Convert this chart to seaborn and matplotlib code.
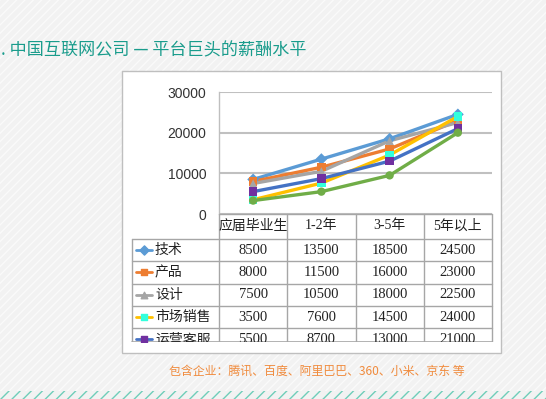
import matplotlib.pyplot as plt
import seaborn as sns
import pandas as pd
from matplotlib.patches import Rectangle

# dados do grafico
categorias = ['应届毕业生', '1-2年', '3-5年', '5年以上']
series = ['技术', '产品', '设计', '市场销售', '运营客服', '其他']
tecnico = [8500, 13500, 18500, 24500]
produto = [8000, 11500, 16000, 23000]
design = [7500, 10500, 18000, 22500]
vendas = [3500, 7600, 14500, 24000]
operacao = [5500, 8700, 13000, 21000]
outros = [3300, 5500, 9500, 20000]
valores = [tecnico, produto, design, vendas, operacao, outros]

cores_linha = ['#5B9BD5', '#ED7D31', '#A5A5A5', '#FFC000', '#4472C4', '#70AD47']
cores_marca = ['#5B9BD5', '#ED7D31', '#A5A5A5', '#33FFDD', '#7030A0', '#70AD47']
marcas = ['D', 's', '^', 's', 's', 'o']

W, H = 546, 399
sns.set_theme(style='white')
plt.rcParams['font.family'] = ['Noto Sans CJK SC', 'DejaVu Sans']
plt.rcParams['hatch.linewidth'] = 1.0

fig = plt.figure(figsize=(W / 100, H / 100), dpi=100)

# fundo em pixels
bg = fig.add_axes([0, 0, 1, 1], zorder=-5)
bg.set_xlim(0, W)
bg.set_ylim(H, 0)
bg.axis('off')
bg.add_patch(Rectangle((0, 0), W, H, facecolor='#f2f2f2', edgecolor='#fafafa',
                       hatch='////', lw=0))
bg.add_patch(Rectangle((0, 391), W, 9, facecolor='#f2f2f2', edgecolor='#6fcdb9',
                       hatch='///', lw=0))
bg.add_patch(Rectangle((122, 71), 379, 282, facecolor='white', edgecolor='#bfbfbf', lw=1))

fig.text(1 / W, 1 - 50 / H, '. 中国互联网公司 — 平台巨头的薪酬水平', color='#1a9c8c',
         fontsize=12.3, va='center', ha='left')
fig.text(317 / W, 1 - 371 / H, '包含企业：腾讯、百度、阿里巴巴、360、小米、京东 等',
         color='#F08B3D', fontsize=8.6, va='center', ha='center')

# grafico principal
x0, x1, ytop, y0 = 219, 492, 92, 214
ax = fig.add_axes([x0 / W, 1 - y0 / H, (x1 - x0) / W, (y0 - ytop) / H])
linhas = []
for nome, vals in zip(series, valores):
    for c, v in zip(categorias, vals):
        linhas.append({'cat': c, 'val': v, 'serie': nome})
df = pd.DataFrame(linhas)

sns.lineplot(data=df, x='cat', y='val', hue='serie', palette=cores_linha, lw=2.4,
             sort=False, legend=False, ax=ax)
sns.scatterplot(data=df, x='cat', y='val', hue='serie', palette=cores_marca,
                style='serie', markers=dict(zip(series, marcas)), s=36,
                edgecolor='none', legend=False, ax=ax, zorder=5)
ax.set_xlim(-0.5, 3.5)
ax.set_ylim(0, 30000)
ax.set_yticks([0, 10000, 20000, 30000])
ax.set_yticklabels(['0', '10000', '20000', '30000'], family=['Liberation Sans'],
                   fontsize=10, color='#333333')
ax.set_xticks([])
ax.set_xlabel('')
ax.set_ylabel('')
ax.tick_params(axis='y', length=0, pad=9)
ax.grid(axis='y', color='#c0c0c0', lw=1.5)
for s in ['top', 'right', 'bottom']:
    ax.spines[s].set_visible(False)
ax.spines['left'].set_color('#bfbfbf')
ax.spines['left'].set_linewidth(1)

# tabela de dados (cortada na borda)
y_corte = 342
tab = fig.add_axes([122 / W, 1 - y_corte / H, (501 - 122) / W, (y_corte - 200) / H])
tab.set_xlim(122, 501)
tab.set_ylim(y_corte, 200)
tab.axis('off')
cor_grade = '#a6a6a6'
col_w = (x1 - x0) / len(categorias)
centros = [x0 + (i + 0.5) * col_w for i in range(len(categorias))]
altura = 22.3
y_tab = 239

tab.plot([x0, x1], [y0, y0], color=cor_grade, lw=1)
for i in range(len(categorias) + 1):
    xv = x0 + i * col_w
    tab.plot([xv, xv], [y0, y_corte], color=cor_grade, lw=1)
tab.plot([132, 132], [y_tab, y_corte], color=cor_grade, lw=1)
tab.plot([132, x1], [y_corte - 0.5, y_corte - 0.5], color=cor_grade, lw=1.2)

for cx, c in zip(centros, categorias):
    tab.text(cx, 226, c, ha='center', va='center', fontsize=10,
             family=['Liberation Serif', 'Noto Sans CJK SC'], color='#222222')

for k, (nome, vals) in enumerate(zip(series, valores)):
    topo = y_tab + k * altura
    if topo >= y_corte:
        break  # linha fica fora da area visivel
    tab.plot([132, x1], [topo, topo], color=cor_grade, lw=1)
    yc = topo + altura / 2
    tab.plot([136, 152], [yc, yc], color=cores_linha[k], lw=2, clip_on=True)
    tab.scatter([144], [yc], marker=marcas[k], color=cores_marca[k], s=22, zorder=5,
                clip_on=True)
    tab.text(155, yc, nome, ha='left', va='center', fontsize=10, color='#222222',
             clip_on=True)
    for cx, v in zip(centros, vals):
        tab.text(cx, yc, str(v), ha='center', va='center', fontsize=10.5,
                 family=['Liberation Serif'], color='#222222', clip_on=True)

fig.savefig('out.png', dpi=100)
